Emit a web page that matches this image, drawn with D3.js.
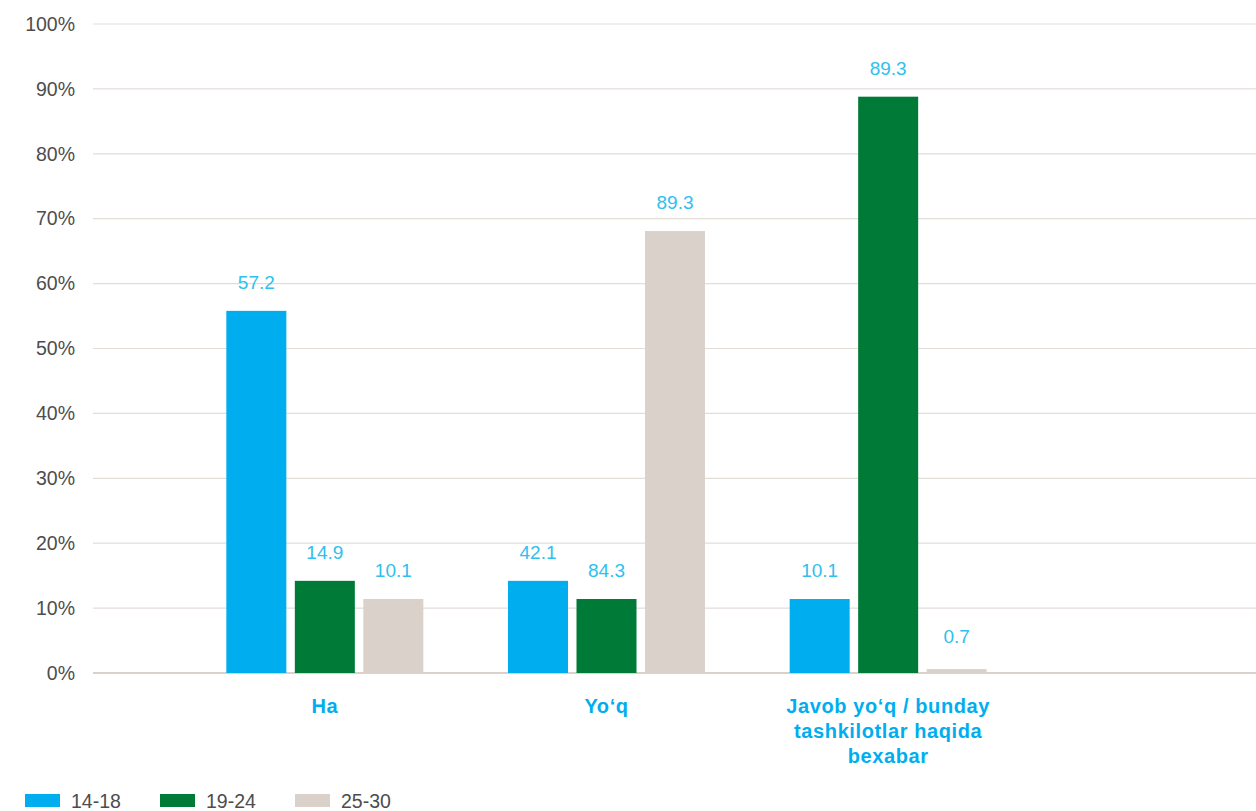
<!DOCTYPE html>
<html><head><meta charset="utf-8">
<script src="https://cdn.jsdelivr.net/npm/d3@7"></script>
<style>body{margin:0;background:#fff;font-family:"Liberation Sans",Arial,sans-serif;}</style>
</head><body><svg id="c" width="1256" height="811"></svg>
<script>
const categories = [["Ha"], ["Yo‘q"], ["Javob yo‘q / bunday", "tashkilotlar haqida", "bexabar"]];
const categoryKeys = ["Ha", "Yo‘q", "Javob"];
const seriesNames = ["14-18", "19-24", "25-30"];
const colors = ["#00aeef", "#007a37", "#d9d1ca"];
// bar heights as drawn (percent)
const s1418 = [55.8, 14.2, 11.4];
const s1924 = [14.2, 11.4, 88.8];
const s2530 = [11.4, 68.1, 0.6];
// value labels as printed
const l1418 = ["57.2", "42.1", "10.1"];
const l1924 = ["14.9", "84.3", "89.3"];
const l2530 = ["10.1", "89.3", "0.7"];
const yTicks = [0, 10, 20, 30, 40, 50, 60, 70, 80, 90, 100];

const series = [s1418, s1924, s2530];
const labels = [l1418, l1924, l2530];
const svg = d3.select("#c");
const y = d3.scaleLinear().domain([0, 100]).range([673, 24]);
const x = d3.scaleBand().domain(categoryKeys).range([184, 1029]);
const gridX0 = 93, gridX1 = 1256;

// gridlines
svg.append("g").selectAll("line").data(yTicks).join("line")
  .attr("x1", gridX0).attr("x2", gridX1)
  .attr("y1", d => y(d)).attr("y2", d => y(d))
  .attr("stroke", d => d === 0 ? "#d9d1ca" : "#e3ddd8")
  .attr("stroke-width", d => d === 0 ? 2 : 1.2);

// y axis labels
const yAxis = d3.axisLeft(y).tickValues(yTicks).tickFormat(d => d + "%").tickSize(0).tickPadding(0);
const ya = svg.append("g").attr("transform", "translate(75,0)").call(yAxis);
ya.select(".domain").remove();
ya.selectAll("text").attr("font-size", 19.5).attr("fill", "#4d4d4d").attr("font-family", "Liberation Sans, Arial, sans-serif");

// bars
const barW = 60, gap = 68.5;
series.forEach((s, si) => {
  const g = svg.append("g");
  g.selectAll("rect").data(s).join("rect")
    .attr("x", (d, i) => x(categoryKeys[i]) + x.bandwidth() / 2 - barW / 2 + (si - 1) * gap)
    .attr("y", d => y(d))
    .attr("width", barW)
    .attr("height", d => y(0) - y(d))
    .attr("fill", colors[si]);
  g.selectAll("text").data(s).join("text")
    .attr("x", (d, i) => x(categoryKeys[i]) + x.bandwidth() / 2 + (si - 1) * gap)
    .attr("y", d => Math.min(y(d) - 22, 643))
    .attr("text-anchor", "middle")
    .attr("font-size", 19)
    .attr("fill", "#2fc0ef")
    .text((d, i) => labels[si][i]);
});

// category labels
const cg = svg.append("g");
categories.forEach((lines, i) => {
  const cx = x(categoryKeys[i]) + x.bandwidth() / 2;
  const t = cg.append("text")
    .attr("x", cx)
    .attr("y", 713)
    .attr("text-anchor", "middle")
    .attr("font-size", 20).attr("font-weight", "bold").attr("fill", "#00aeef")
    .attr("letter-spacing", 0.6);
  lines.forEach((l, j) => t.append("tspan").attr("x", cx).attr("dy", j === 0 ? 0 : 25).text(l));
});

// legend
const legX = [25, 160, 295];
const lg = svg.append("g").selectAll("g").data(seriesNames).join("g")
  .attr("transform", (d, i) => `translate(${legX[i]},794)`);
lg.append("rect").attr("width", 35).attr("height", 13).attr("fill", (d, i) => colors[i]);
lg.append("text").attr("x", 46).attr("y", 14).attr("font-size", 19.5).attr("fill", "#4d4d4d").text(d => d);
</script></body></html>
